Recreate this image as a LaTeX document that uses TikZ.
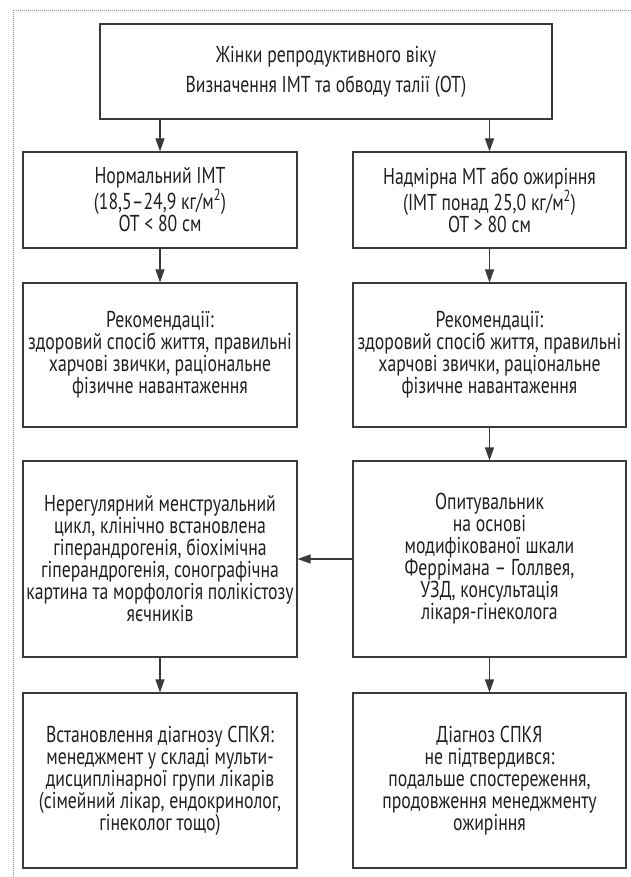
\documentclass[tikz,border=0pt]{standalone}
\usepackage{fontspec}
\setmainfont{PT Sans}[FakeStretch=0.77]
\usetikzlibrary{arrows.meta}
\definecolor{boxline}{HTML}{3A3A3A}
\definecolor{txt}{HTML}{231F20}
\begin{document}
\begin{tikzpicture}[x=1pt,y=-1pt,
  box/.style={draw=boxline,line width=1.1pt,align=center,inner sep=0pt,
    text=txt,font=\fontsize{23}{22}\selectfont},
  arr/.style={-{Triangle[length=13pt,width=9pt]},line width=1.1pt,draw=boxline,fill=boxline},
  frame/.style={draw=gray!80,line width=0.6pt,dash pattern=on 0.8pt off 1.2pt}]
\useasboundingbox (0,0) rectangle (631,877);
\coordinate (fc) at (13,877);
\coordinate (ftl) at (13,10);
\coordinate (ftr) at (631,10);
\draw[frame] (fc) -- (ftl) -- (ftr);

\node[box,minimum width=452pt,minimum height=95pt,
  font=\fontsize{23}{30}\selectfont] (top) at (326,71.5)
  {Жінки репродуктивного віку\\Визначення ІМТ та обводу талії (ОТ)};

\node[box,minimum width=274pt,minimum height=96pt] (l2) at (160,200)
  {Нормальний ІМТ\\(18,5–24,9 кг/м\textsuperscript{2})\\ОТ < 80 см};
\node[box,minimum width=273pt,minimum height=96pt] (r2) at (489.5,200)
  {Надмірна МТ або ожиріння\\(ІМТ понад 25,0 кг/м\textsuperscript{2})\\ОТ > 80 см};

\node[box,minimum width=274pt,minimum height=144pt] (l3) at (160,355)
  {Рекомендації:\\здоровий спосіб життя, правильні\\харчові звички, раціональне\\фізичне навантаження};
\node[box,minimum width=273pt,minimum height=144pt] (r3) at (489.5,355)
  {Рекомендації:\\здоровий спосіб життя, правильні\\харчові звички, раціональне\\фізичне навантаження};

\node[box,minimum width=274pt,minimum height=196pt] (l4) at (160,559)
  {Нерегулярний менструальний\\цикл, клінічно встановлена\\гіперандрогенія, біохімічна\\гіперандрогенія, сонографічна\\картина та морфологія полікістозу\\яєчників};
\node[box,minimum width=273pt,minimum height=196pt] (r4) at (489.5,559)
  {Опитувальник\\на основі\\модифікованої шкали\\Феррімана – Голлвея,\\УЗД, консультація\\лікаря-гінеколога};

\node[box,minimum width=274pt,minimum height=175pt] (l5) at (160,780.5)
  {Встановлення діагнозу СПКЯ:\\менеджмент у складі мульти-\\дисциплінарної групи лікарів\\(сімейний лікар, ендокринолог,\\гінеколог тощо)};
\node[box,minimum width=273pt,minimum height=175pt] (r5) at (489.5,780.5)
  {Діагноз СПКЯ\\не підтвердився:\\подальше спостереження,\\продовження менеджменту\\ожиріння};

\draw[arr] (top.south -| l2.north) -- (l2.north);
\draw[arr] (top.south -| r2.north) -- (r2.north);
\draw[arr] (l2) -- (l3);
\draw[arr] (r2) -- (r3);
\draw[arr] (r3) -- (r4);
\draw[arr] (r4) -- (l4);
\draw[arr] (l4) -- (l5);
\draw[arr] (r4) -- (r5);
\end{tikzpicture}
\end{document}
